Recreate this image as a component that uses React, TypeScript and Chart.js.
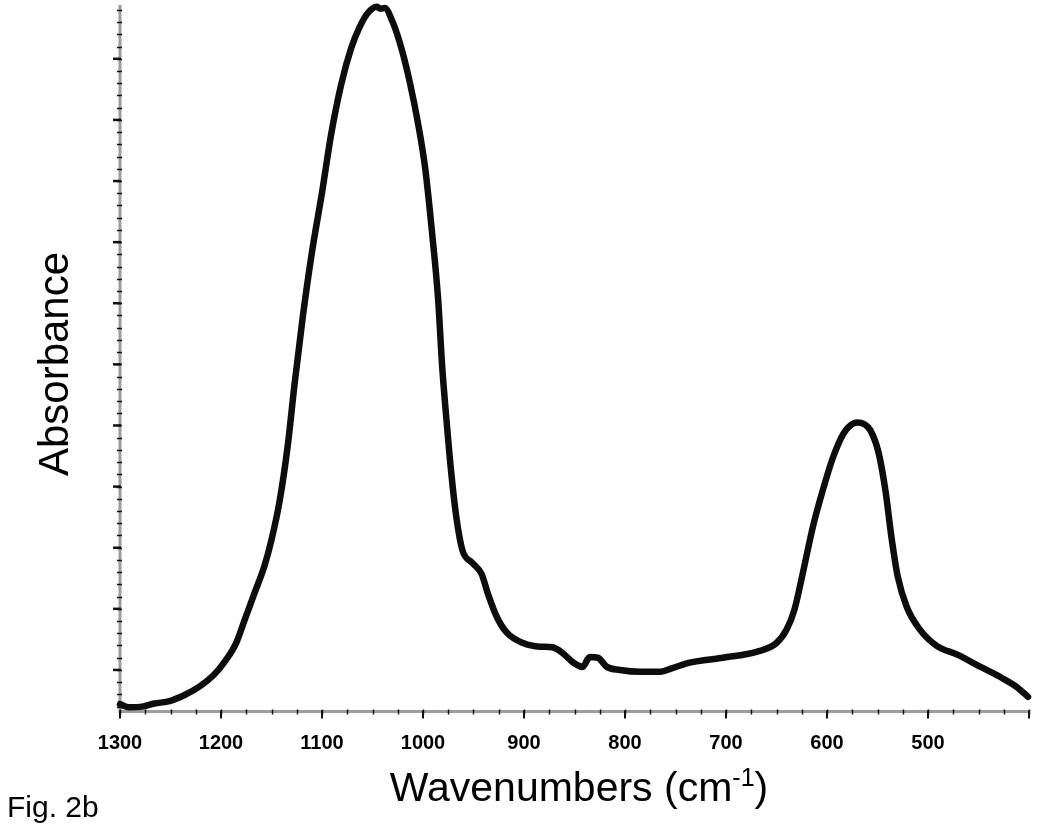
import React, { useEffect, useRef } from "react";
import { Chart, registerables } from "chart.js";

Chart.register(...registerables);

// Spectrum (wavenumber in cm-1, absorbance in arbitrary units)
const wavenumbers = [
  1300, 1291, 1278, 1266, 1251, 1236, 1221, 1207, 1197, 1185, 1177, 1167, 1157, 1150, 1142, 1134,
  1127, 1119, 1110, 1100, 1091, 1081, 1071, 1063, 1055, 1046, 1042, 1038, 1030, 1021, 1013, 1005,
  998, 991, 985, 981, 977, 972, 967, 961, 951, 942, 936, 927, 917, 901, 884, 872, 862, 852, 842,
  835, 827, 818, 805, 785, 765, 753, 736, 703, 669, 650, 640, 632, 624, 614, 604, 594, 584, 577,
  570, 563, 557, 549, 542, 536, 530, 521, 508, 491, 471, 448, 428, 412, 401,
];
const absorbance = [
  -0.056, -0.061, -0.06, -0.055, -0.051, -0.041, -0.027, -0.008, 0.012, 0.044, 0.08, 0.125, 0.17,
  0.213, 0.276, 0.366, 0.47, 0.578, 0.683, 0.781, 0.876, 0.958, 1.018, 1.051, 1.074, 1.085, 1.082,
  1.083, 1.06, 1.015, 0.961, 0.895, 0.823, 0.715, 0.606, 0.496, 0.414, 0.322, 0.25, 0.196, 0.175,
  0.157, 0.126, 0.087, 0.061, 0.044, 0.038, 0.037, 0.028, 0.013, 0.005, 0.021, 0.02, 0.005, 0.0,
  -0.003, -0.003, 0.003, 0.012, 0.02, 0.03, 0.044, 0.066, 0.1, 0.158, 0.234, 0.295, 0.348, 0.386,
  0.4, 0.405, 0.402, 0.392, 0.356, 0.292, 0.215, 0.153, 0.103, 0.066, 0.039, 0.025, 0.005, -0.012,
  -0.028, -0.044,
];

const xLabels = ["1300", "1200", "1100", "1000", "900", "800", "700", "600", "500"];
const xMajorTicks = [1300, 1200, 1100, 1000, 900, 800, 700, 600, 500, 400];
const xMinorStep = 25;
const yMajorTicks = [0, 0.1, 0.2, 0.3, 0.4, 0.5, 0.6, 0.7, 0.8, 0.9, 1.0];
const yMinorStep = 0.02;

const xTitle = "Wavenumbers (cm";
const xTitleSup = "-1";
const xTitleEnd = ")";
const yTitle = "Absorbance";
const figLabel = "Fig. 2b";

const FONT = '"Liberation Sans", Arial, Helvetica, sans-serif';

const axesPlugin = {
  id: "spectrumAxes",
  beforeDatasetsDraw(chart: any) {
    const ctx = chart.ctx as CanvasRenderingContext2D;
    const xs = chart.scales.x;
    const ys = chart.scales.y;
    const area = chart.chartArea;
    const x0 = area.left;
    const yb = area.bottom;
    ctx.save();
    // axis lines
    ctx.strokeStyle = "#9c9c9c";
    ctx.lineWidth = 3;
    ctx.beginPath();
    ctx.moveTo(x0, area.top);
    ctx.lineTo(x0, yb + 1.5);
    ctx.moveTo(x0 - 1.5, yb);
    ctx.lineTo(area.right, yb);
    ctx.stroke();

    ctx.strokeStyle = "#111";
    // y minor ticks
    ctx.lineWidth = 1.5;
    const yStart = Math.ceil(ys.min / yMinorStep) * yMinorStep;
    for (let v = yStart; v <= ys.max + 1e-9; v += yMinorStep) {
      const p = Math.round(ys.getPixelForValue(v)) + 0.5;
      ctx.beginPath();
      ctx.moveTo(x0 - 3, p);
      ctx.lineTo(x0 + 2, p);
      ctx.stroke();
    }
    // y major ticks
    ctx.lineWidth = 2.5;
    yMajorTicks.forEach((v) => {
      const p = ys.getPixelForValue(v);
      ctx.beginPath();
      ctx.moveTo(x0 - 7, p);
      ctx.lineTo(x0 + 1, p);
      ctx.stroke();
    });
    // x minor ticks
    ctx.lineWidth = 1.5;
    for (let v = xs.max; v >= xs.min - 1e-9; v -= xMinorStep) {
      const p = Math.round(xs.getPixelForValue(v)) + 0.5;
      ctx.beginPath();
      ctx.moveTo(p, yb - 2);
      ctx.lineTo(p, yb + 3);
      ctx.stroke();
    }
    // x major ticks
    ctx.lineWidth = 2;
    xMajorTicks.forEach((v) => {
      const p = xs.getPixelForValue(v);
      ctx.beginPath();
      ctx.moveTo(p, yb - 1);
      ctx.lineTo(p, yb + 7);
      ctx.stroke();
    });

    // x tick labels
    ctx.fillStyle = "#000";
    ctx.font = `bold 20px ${FONT}`;
    ctx.textAlign = "center";
    ctx.textBaseline = "middle";
    xLabels.forEach((lab) => {
      const p = xs.getPixelForValue(Number(lab));
      ctx.fillText(lab, p, yb + 32);
    });

    // x title with superscript
    ctx.textAlign = "left";
    ctx.textBaseline = "alphabetic";
    const bigFont = `41px ${FONT}`;
    const supFont = `25px ${FONT}`;
    ctx.font = bigFont;
    const w1 = ctx.measureText(xTitle).width;
    const w3 = ctx.measureText(xTitleEnd).width;
    ctx.font = supFont;
    const w2 = ctx.measureText(xTitleSup).width;
    const total = w1 + w2 + w3;
    const cx = 579;
    const base = 801;
    let tx = cx - total / 2;
    ctx.font = bigFont;
    ctx.fillText(xTitle, tx, base);
    tx += w1;
    ctx.font = supFont;
    ctx.fillText(xTitleSup, tx, base - 15);
    tx += w2;
    ctx.font = bigFont;
    ctx.fillText(xTitleEnd, tx, base);

    // y title
    ctx.save();
    ctx.translate(68, 364);
    ctx.rotate(-Math.PI / 2);
    ctx.font = `42px ${FONT}`;
    ctx.textAlign = "center";
    ctx.textBaseline = "alphabetic";
    ctx.fillText(yTitle, 0, 0);
    ctx.restore();

    // figure label
    ctx.font = `30px ${FONT}`;
    ctx.textAlign = "left";
    ctx.textBaseline = "alphabetic";
    ctx.fillText(figLabel, 7, 817);

    ctx.restore();
  },
};

export default function App() {
  const ref = useRef<HTMLCanvasElement>(null);
  useEffect(() => {
    if (!ref.current) return;
    const points = wavenumbers.map((w, i) => ({ x: w, y: absorbance[i] }));
    const chart = new Chart(ref.current, {
      type: "line",
      data: {
        datasets: [
          {
            data: points,
            borderColor: "#0d0d0d",
            borderWidth: 6.5,
            pointRadius: 0,
            cubicInterpolationMode: "monotone",
            borderJoinStyle: "round",
            borderCapStyle: "round",
            fill: false,
            clip: false as any,
          },
        ],
      },
      options: {
        animation: false,
        responsive: false,
        devicePixelRatio: 1,
        layout: { padding: { left: 120, right: 21, top: 5, bottom: 118.5 } },
        plugins: { legend: { display: false }, tooltip: { enabled: false }, title: { display: false } },
        scales: {
          x: { type: "linear", reverse: true, min: 400, max: 1300, display: false },
          y: { type: "linear", min: -0.068, max: 1.088, display: false },
        },
      },
      plugins: [axesPlugin],
    });
    return () => chart.destroy();
  }, []);
  return (
    <canvas
      ref={ref}
      width={1050}
      height={830}
      style={{ position: "absolute", left: 0, top: 0, width: 1050, height: 830, background: "#fff" }}
    />
  );
}
